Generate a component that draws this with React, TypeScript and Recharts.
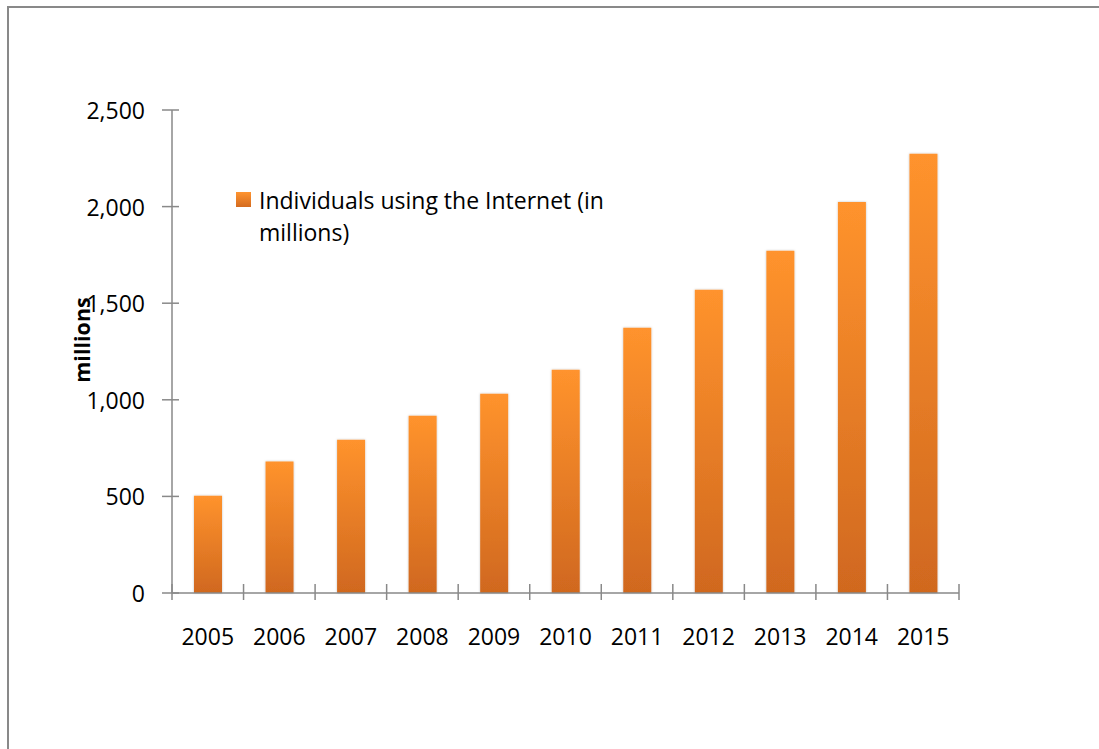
import React from 'react';
import { BarChart, Bar, XAxis, YAxis, Legend, Label } from 'recharts';

const years = ['2005', '2006', '2007', '2008', '2009', '2010', '2011', '2012', '2013', '2014', '2015'];
const internetUsers = [504, 680, 793, 917, 1031, 1155, 1373, 1570, 1772, 2024, 2273];
const yTicks = [0, 500, 1000, 1500, 2000, 2500];
const seriesName = 'Individuals using the Internet (in millions)';

const data = years.map((year, i) => ({ year, users: internetUsers[i] }));

const W = 1099;
const H = 749;
const PLOT_LEFT = 172;
const PLOT_RIGHT = 959;
const PLOT_TOP = 110;
const PLOT_BOTTOM = 593;
const BAND = (PLOT_RIGHT - PLOT_LEFT) / years.length;
const AXIS = '#898989';
const FONT = '"Open Sans", sans-serif';

const XTick = (props: any) => {
  const { x, y, payload, index } = props;
  const left = x - BAND / 2;
  const right = x + BAND / 2;
  return (
    <g>
      <line x1={left} x2={left} y1={y - 9} y2={y + 7} stroke={AXIS} strokeWidth={1.5} />
      {index === years.length - 1 && (
        <line x1={right} x2={right} y1={y - 9} y2={y + 7} stroke={AXIS} strokeWidth={1.5} />
      )}
      <text x={x} y={y + 52} textAnchor="middle" fontFamily={FONT} fontSize={23} fill="#000">
        {payload.value}
      </text>
    </g>
  );
};

const YTick = (props: any) => {
  const { x, y, payload } = props;
  return (
    <g>
      <line x1={x - 10} x2={x + 7} y1={y} y2={y} stroke={AXIS} strokeWidth={1.5} />
      <text x={x - 27} y={y + 9} textAnchor="end" fontFamily={FONT} fontSize={23} fill="#000">
        {Number(payload.value).toLocaleString('en-US')}
      </text>
    </g>
  );
};

const renderLegend = () => (
  <div style={{ display: 'flex', alignItems: 'flex-start', fontFamily: FONT }}>
    <div
      style={{
        width: 15,
        height: 15,
        marginTop: 8,
        marginRight: 8,
        background: 'linear-gradient(#ff9430, #d46b1f)',
        flex: 'none',
      }}
    />
    <div style={{ width: 380, fontSize: 23, lineHeight: '32px', color: '#000' }}>{seriesName}</div>
  </div>
);

const YLabel = () => (
  <text
    x={90}
    y={340}
    transform="rotate(-90 90 340)"
    textAnchor="middle"
    fontFamily={FONT}
    fontWeight="bold"
    fontSize={21.5}
    fill="#000"
  >
    millions
  </text>
);

export default function App() {
  return (
    <div style={{ position: 'absolute', left: 0, top: 0, width: W, height: H, overflow: 'hidden', background: '#fff' }}>
      <div
        style={{
          position: 'absolute',
          left: 7,
          top: 6,
          width: W + 50,
          height: H + 50,
          borderLeft: `2px solid ${AXIS}`,
          borderTop: `2px solid ${AXIS}`,
        }}
      />
      <div style={{ position: 'absolute', left: 0, top: 0 }}>
        <BarChart
          width={W}
          height={H}
          data={data}
          margin={{ top: PLOT_TOP, right: W - PLOT_RIGHT, bottom: H - PLOT_BOTTOM - 60, left: PLOT_LEFT - 100 }}
        >
          <defs>
            <linearGradient id="barFill" x1="0" y1="0" x2="0" y2="1">
              <stop offset="0%" stopColor="#ff932d" />
              <stop offset="100%" stopColor="#d0681f" />
            </linearGradient>
            <filter id="barShadow" x="-20%" y="-5%" width="140%" height="110%">
              <feDropShadow dx="0" dy="0" stdDeviation="1.2" floodColor="#000" floodOpacity="0.25" />
            </filter>
          </defs>
          <XAxis
            dataKey="year"
            height={60}
            tickSize={0}
            tickMargin={0}
            tickLine={false}
            axisLine={{ stroke: AXIS, strokeWidth: 1.5 }}
            tick={<XTick />}
            interval={0}
          />
          <YAxis
            width={100}
            domain={[0, 2500]}
            ticks={yTicks}
            tickSize={0}
            tickMargin={0}
            tickLine={false}
            axisLine={{ stroke: AXIS, strokeWidth: 1.5 }}
            tick={<YTick />}
          >
            <Label content={<YLabel />} />
          </YAxis>
          <Legend
            layout="vertical"
            align="center"
            verticalAlign="middle"
            content={renderLegend}
            wrapperStyle={{ left: 236, top: 184, width: 420 }}
          />
          <Bar
            dataKey="users"
            name={seriesName}
            fill="url(#barFill)"
            barSize={28}
            filter="url(#barShadow)"
            isAnimationActive={false}
          />
        </BarChart>
      </div>
    </div>
  );
}
